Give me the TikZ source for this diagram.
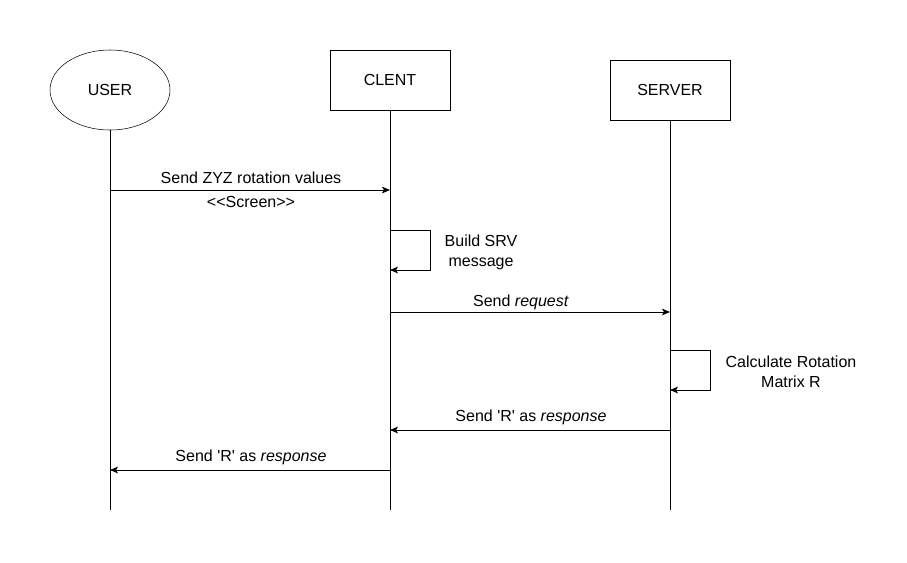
\documentclass[tikz,border=0pt]{standalone}
\usepackage{fontspec}
\setmainfont{Liberation Sans}
\usetikzlibrary{arrows.meta,positioning,shapes.geometric,calc}

\begin{document}
\begin{tikzpicture}[
          x=0.75pt, y=-0.75pt,
          lbl/.style={font=\fontsize{12}{15}\selectfont, align=center, inner sep=0pt},
          actor/.style={draw, ellipse, minimum width=90pt, minimum height=60pt, inner sep=0pt},
          part/.style={draw, rectangle, minimum width=90pt, minimum height=45pt, inner sep=0pt},
          life/.style={draw, line width=0.6pt},
          msg/.style={draw, line width=0.6pt, -{Stealth[length=6pt, width=5pt, inset=1.5pt]}}
      ]
        \useasboundingbox (0,0) rectangle (907,562);

        % participants
        \node[actor, lbl] (user)   at (110,90) {USER};
        \node[part, lbl]  (client) at (390,80) {CLENT};
        \node[part, lbl]  (server) at (670,90) {SERVER};

        % lifeline ends
        \coordinate (userEnd)   at (110,510);
        \coordinate (clientEnd) at (390,510);
        \coordinate (serverEnd) at (670,510);
        \draw[life] (user.south)   -- (userEnd);
        \draw[life] (client.south) -- (clientEnd);
        \draw[life] (server.south) -- (serverEnd);

        % message points
        \coordinate (u1) at (110,190);
        \coordinate (c1) at (390,190);
        \coordinate (c2a) at (390,230);
        \coordinate (c2b) at (390,270);
        \coordinate (c3) at (390,312);
        \coordinate (s3) at (670,312);
        \coordinate (s4a) at (670,350);
        \coordinate (s4b) at (670,390);
        \coordinate (s5) at (670,430);
        \coordinate (c5) at (390,430);
        \coordinate (c6) at (390,470);
        \coordinate (u6) at (110,470);

        \draw[msg] (u1) -- (c1);
        \draw[msg] (c2a) -- ++(40,0) -- ++(0,40) -- (c2b);
        \draw[msg] (c3) -- (s3);
        \draw[msg] (s4a) -- ++(40,0) -- ++(0,40) -- (s4b);
        \draw[msg] (s5) -- (c5);
        \draw[msg] (c6) -- (u6);

        % labels
        \node[lbl] (l1)  at (251,178) {Send ZYZ rotation values};
        \node[lbl] (l1b) at (251,202) {<{}<Screen>{}>};
        \node[lbl] (l2)  at (481,252) {Build SRV\\message};
        \node[lbl] (l3)  at (521,302) {Send \textit{request}};
        \node[lbl] (l4)  at (791,372) {Calculate Rotation\\Matrix R};
        \node[lbl] (l5)  at (531,417) {Send \textquotesingle R\textquotesingle{} as \textit{response}};
        \node[lbl] (l6)  at (251,457) {Send \textquotesingle R\textquotesingle{} as \textit{response}};
      \end{tikzpicture}
\end{document}
